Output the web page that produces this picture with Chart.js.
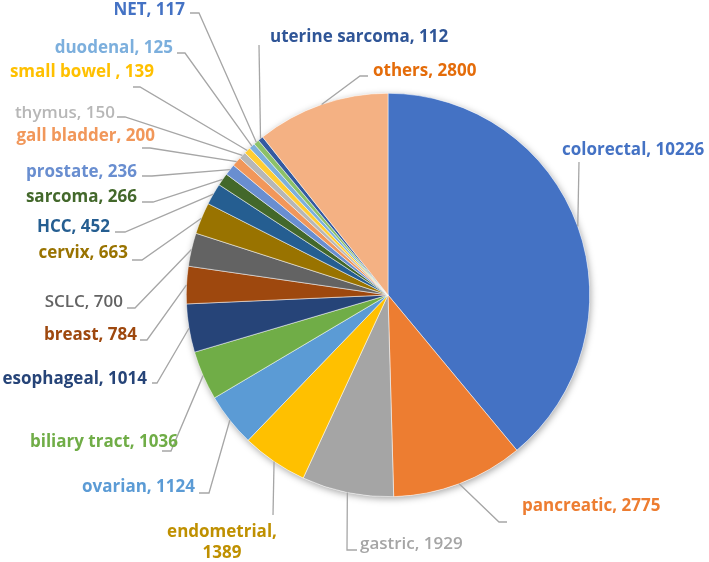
<!DOCTYPE html>
<html>
<head>
<meta charset="utf-8">
<script src="https://cdn.jsdelivr.net/npm/chart.js@4"></script>
<style>
  body { margin: 0; background: #fff; }
</style>
</head>
<body>
<canvas id="pieCanvas" width="709" height="562"></canvas>
<script>
const categories = ['colorectal', 'pancreatic', 'gastric', 'endometrial', 'ovarian', 'biliary tract', 'esophageal',
    'breast', 'SCLC', 'cervix', 'HCC', 'sarcoma', 'prostate', 'gall bladder', 'thymus', 'small bowel ',
    'duodenal', 'NET', 'uterine sarcoma', 'others'];
const counts = [10226, 2775, 1929, 1389, 1124, 1036, 1014, 784, 700, 663, 452, 266, 236, 200, 150, 139, 125, 117, 112, 2800];

const sliceColors = ['#4472C4', '#ED7D31', '#A5A5A5', '#FFC000', '#5B9BD5', '#70AD47', '#264478',
    '#9E480E', '#636363', '#997300', '#255E91', '#43682B', '#698ED0', '#F1975A', '#B7B7B7', '#FFCD33',
    '#7CAFDD', '#8CC168', '#335AA1', '#F4B183'];
const labelColors = ['#4472C4', '#ED7D31', '#A5A5A5', '#BF9000', '#5B9BD5', '#70AD47', '#264478',
    '#9E480E', '#636363', '#997300', '#255E91', '#43682B', '#698ED0', '#F1975A', '#B7B7B7', '#FFC000',
    '#7CAFDD', '#4472C4', '#2F5597', '#E46C0A'];

// label placement: text anchor, alignment, leader bends (arc point is taken from the chart)
const labelLayout = [
    { x: 562, y: 150, align: 'left', bends: [[579, 162]] },
    { x: 522, y: 506, align: 'left', bends: [[499, 522], [507, 522]] },
    { x: 360, y: 544, align: 'left', bends: [[347, 550], [357, 550]], weight: 'normal' },
    { x: 222, y: 532, align: 'center', bends: [[273, 515]], twoLines: true },
    { x: 195, y: 487, align: 'right', bends: [[209, 493], [199, 493]] },
    { x: 178, y: 442, align: 'right', bends: [[171, 451], [162, 451]] },
    { x: 147, y: 379, align: 'right', bends: [[157, 383], [152, 383]] },
    { x: 137, y: 335, align: 'right', bends: [[147, 340], [140, 340]] },
    { x: 123, y: 302, align: 'right', bends: [[135, 308], [127, 308]], weight: 'normal' },
    { x: 128, y: 253, align: 'right', bends: [[142, 260], [132, 260]] },
    { x: 110, y: 227, align: 'right', bends: [[125, 232], [115, 232]] },
    { x: 137, y: 197, align: 'right', bends: [[153, 202], [142, 202]] },
    { x: 137, y: 172, align: 'right', bends: [[152, 176], [142, 176]] },
    { x: 155, y: 136, align: 'right', bends: [[150, 148], [142, 148]] },
    { x: 115, y: 113, align: 'right', bends: [[125, 117], [117, 117]], weight: 'normal' },
    { x: 154, y: 72, align: 'right', bends: [[140, 87], [133, 87]] },
    { x: 173, y: 48, align: 'right', bends: [[185, 53], [177, 53]] },
    { x: 185, y: 10, align: 'right', bends: [[199, 13], [190, 13]] },
    { x: 270, y: 37, align: 'left', bends: [[259, 45]] },
    { x: 373, y: 71, align: 'left', bends: [[360, 76], [368, 76]] }
];

const FONT = "'Open Sans', sans-serif";

// soft shadow under the whole pie
const pieShadow = {
    id: 'pieShadow',
    beforeDatasetsDraw(chart) {
        const arc = chart.getDatasetMeta(0).data[0];
        if (!arc) return;
        const ctx = chart.ctx;
        ctx.save();
        ctx.shadowColor = 'rgba(0,0,0,0.35)';
        ctx.shadowBlur = 7;
        ctx.shadowOffsetX = 1;
        ctx.shadowOffsetY = 2;
        ctx.fillStyle = '#ffffff';
        ctx.beginPath();
        ctx.arc(arc.x, arc.y, arc.outerRadius, 0, Math.PI * 2);
        ctx.fill();
        ctx.restore();
    }
};

// outside labels with leader lines
const leaderLabels = {
    id: 'leaderLabels',
    afterDatasetsDraw(chart) {
        const ctx = chart.ctx;
        const arcs = chart.getDatasetMeta(0).data;
        ctx.save();
        arcs.forEach((arc, i) => {
            const pos = labelLayout[i];
            const mid = (arc.startAngle + arc.endAngle) / 2;
            const px = arc.x + Math.cos(mid) * arc.outerRadius;
            const py = arc.y + Math.sin(mid) * arc.outerRadius;

            ctx.strokeStyle = '#A6A6A6';
            ctx.lineWidth = 1.3;
            ctx.beginPath();
            ctx.moveTo(px, py);
            pos.bends.forEach(b => ctx.lineTo(b[0], b[1]));
            ctx.stroke();

            ctx.fillStyle = labelColors[i];
            ctx.font = (pos.weight === 'normal' ? '600' : '700') + ' 17px ' + FONT;
            ctx.textAlign = pos.align;
            ctx.textBaseline = 'middle';
            if (pos.twoLines) {
                ctx.fillText(categories[i] + ',', pos.x, pos.y);
                ctx.fillText(String(counts[i]), pos.x, pos.y + 21);
            } else {
                ctx.fillText(categories[i] + ', ' + counts[i], pos.x, pos.y);
            }
        });
        ctx.restore();
    }
};

new Chart(document.getElementById('pieCanvas').getContext('2d'), {
    type: 'pie',
    data: {
        labels: categories,
        datasets: [{
            data: counts,
            backgroundColor: sliceColors,
            borderColor: '#ffffff',
            borderWidth: 0.5
        }]
    },
    options: {
        responsive: false,
        animation: false,
        layout: { padding: { left: 186, right: 119, top: 93, bottom: 65 } },
        plugins: {
            legend: { display: false },
            tooltip: { enabled: false }
        }
    },
    plugins: [pieShadow, leaderLabels]
});
</script>
</body>
</html>
